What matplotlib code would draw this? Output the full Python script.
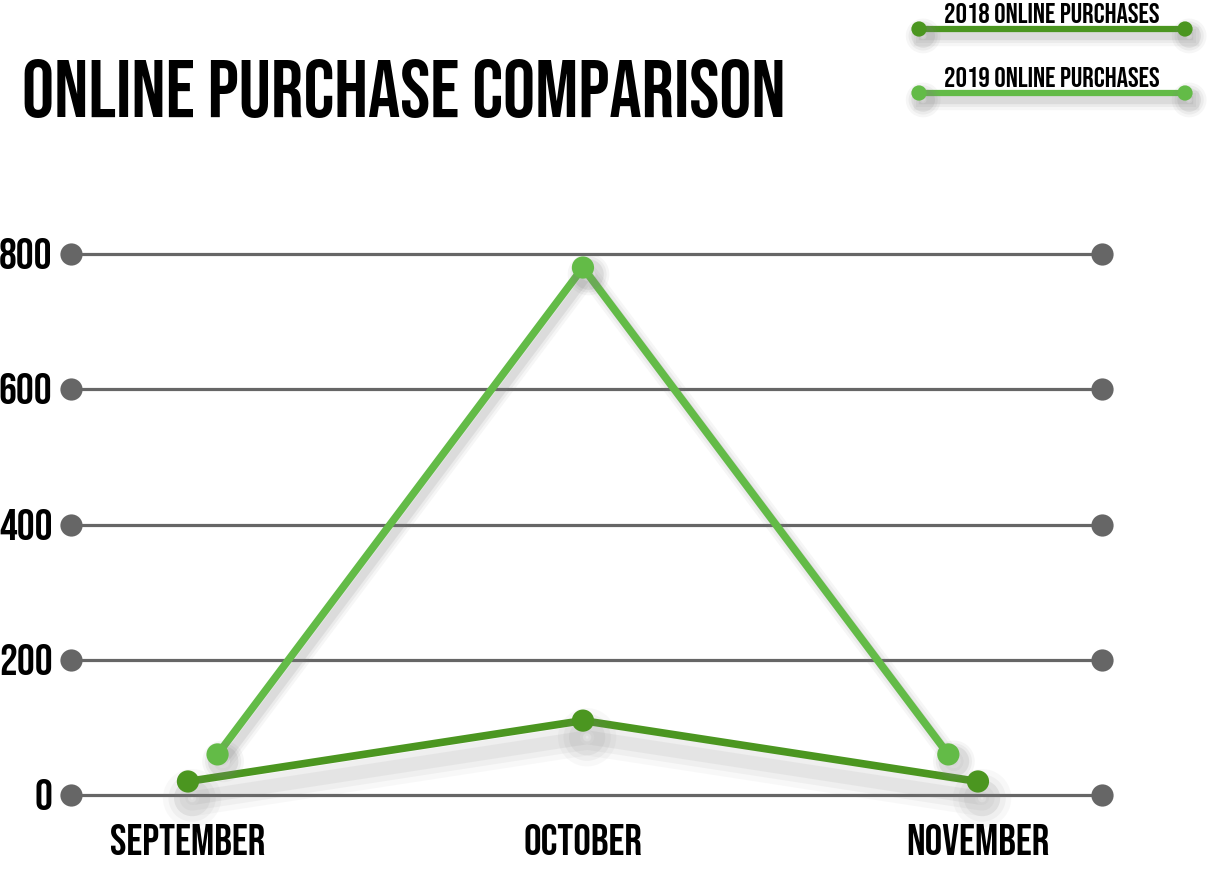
import matplotlib
matplotlib.use('Agg')
import matplotlib.pyplot as plt
import matplotlib.patheffects as pe
from matplotlib.transforms import offset_copy

# --- data ---
months = ['SEPTEMBER', 'OCTOBER', 'NOVEMBER']
purchases_2018 = [20, 110, 20]
purchases_2019 = [60, 780, 60]
y_ticks = [0, 200, 400, 600, 800]
series_names = ['2018 ONLINE PURCHASES', '2019 ONLINE PURCHASES']

# --- style ---
FONT = ['Bebas Neue', 'Oswald', 'Liberation Sans Narrow', 'DejaVu Sans']
plt.rcParams['font.family'] = FONT
dark_green = '#4b9620'
light_green = '#63bb47'
grid_grey = '#666666'
inset_2019 = 0.075  # 2019 end points sit a little inside the 2018 ones


def shadow(dx=3, dy=-5, widths=((14, 0.07), (10, 0.09), (6, 0.14))):
    # fake a soft drop shadow with a few stacked translucent strokes
    fx = [pe.SimpleLineShadow(offset=(dx, dy), shadow_color='#808080', alpha=a, linewidth=lw)
          for lw, a in widths]
    return fx + [pe.Normal()]


fig = plt.figure(figsize=(12.11, 8.70), dpi=100)
ax = fig.add_axes([71 / 1211, 74 / 870, 1031 / 1211, 541 / 870])
ax.set_xlim(-0.296, 2.314)
ax.set_ylim(0, 800)
ax.axis('off')

# gridlines with round end caps
for v in y_ticks:
    ax.plot([-0.296, 2.314], [v, v], color=grid_grey, lw=2.3, marker='o', markersize=16,
            markeredgewidth=0, clip_on=False, zorder=1)

x18 = list(range(len(months)))
x19 = [x18[0] + inset_2019, x18[1], x18[2] - inset_2019]

ax.plot(x18, purchases_2018, color=dark_green, lw=5.5, marker='o', markersize=16,
        markeredgewidth=0, solid_capstyle='round', clip_on=False, zorder=3,
        path_effects=shadow(3, -12, ((26, 0.05), (18, 0.07), (10, 0.09))))
ax.plot(x19, purchases_2019, color=light_green, lw=5.5, marker='o', markersize=16,
        markeredgewidth=0, solid_capstyle='round', clip_on=False, zorder=4,
        path_effects=shadow(4, -5))

# y labels
ylab_tr = offset_copy(ax.get_yaxis_transform(), fig=fig, x=0, y=-14, units='dots')
for v in y_ticks:
    ax.text(-0.018, v, str(v), transform=ylab_tr, ha='right', va='baseline',
            fontsize=32, color='black')

# month labels
xlab_tr = offset_copy(ax.get_xaxis_transform(), fig=fig, x=0, y=-59, units='dots')
for i, m in enumerate(months):
    ax.text(i, 0, m, transform=xlab_tr, ha='center', va='baseline', fontsize=31.5, color='black')

# title
fig.text(22 / 1211, 1 - 117 / 870, 'ONLINE PURCHASE COMPARISON', ha='left', va='baseline',
         fontsize=58, color='black')

# legend drawn by hand, top right
leg = fig.add_axes([0, 0, 1, 1], facecolor='none')
leg.set_xlim(0, 1211)
leg.set_ylim(870, 0)
leg.axis('off')
for name, col, y in [(series_names[0], dark_green, 30), (series_names[1], light_green, 94)]:
    leg.plot([919, 1185], [y, y], color=col, lw=4.5, marker='o', markersize=11,
             markeredgewidth=0, path_effects=shadow(3, -5))
    leg.text(1052, y - 7, name, ha='center', va='baseline', fontsize=20.5, color='black')

fig.savefig('out.png', dpi=100)
